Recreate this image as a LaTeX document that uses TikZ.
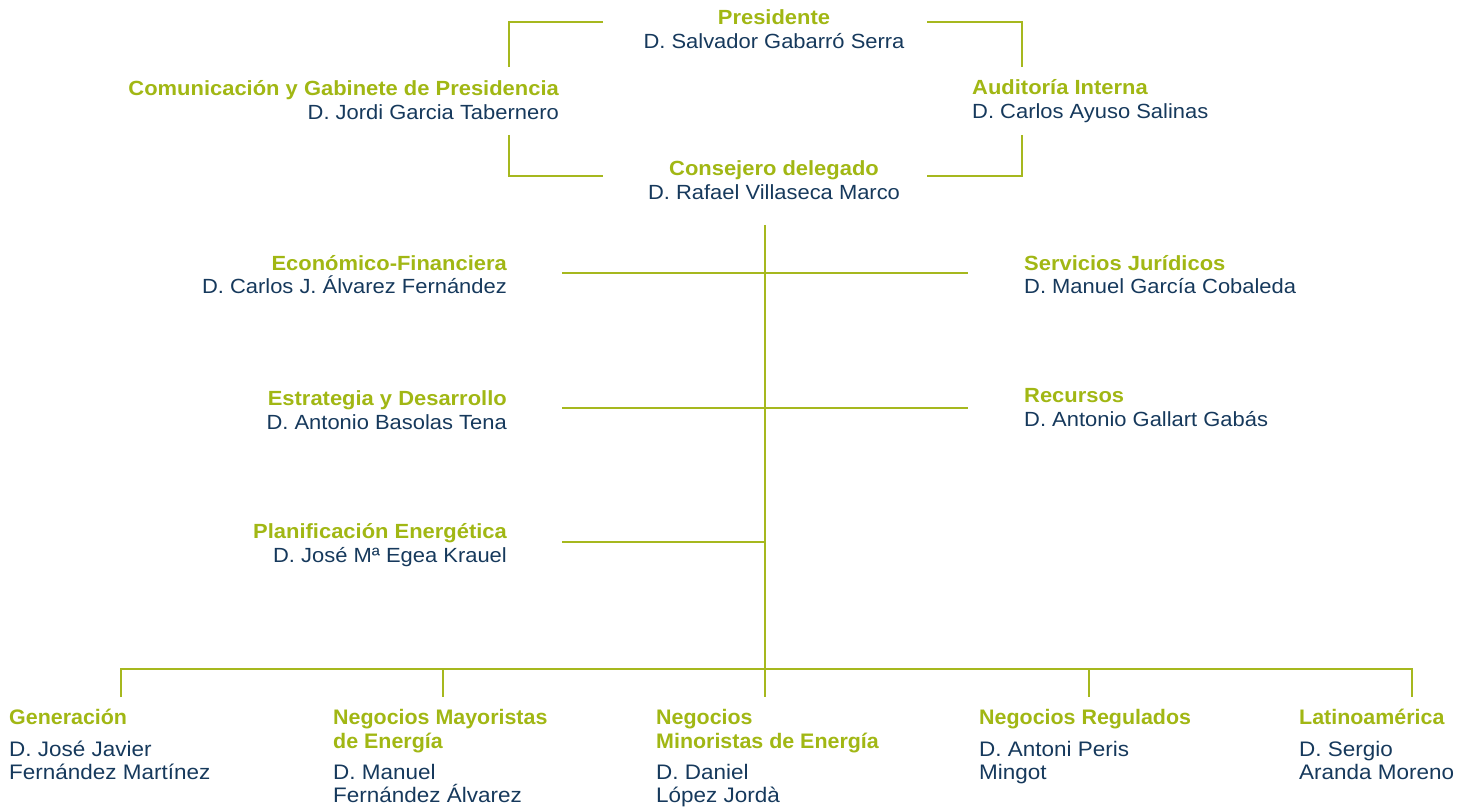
\documentclass[tikz,border=0pt]{standalone}
\usepackage{fontspec}
\setmainfont{Liberation Sans}[FakeStretch=1.07]
\newfontfamily\bottomtitlefont{Liberation Sans}[FakeStretch=1.02]
\definecolor{chartgreen}{RGB}{161,183,20}
\definecolor{chartline}{RGB}{166,184,30}
\definecolor{chartnavy}{RGB}{22,57,92}
\begin{document}
\begin{tikzpicture}[x=1pt,y=-1pt,
  ttl/.style={font=\fontsize{20.5}{24}\selectfont\bfseries, text=chartgreen, inner sep=0pt},
  nm/.style={font=\fontsize{20.5}{24}\selectfont, text=chartnavy, inner sep=0pt},
  bttl/.style={font=\bottomtitlefont\fontsize{21}{24}\selectfont\bfseries, text=chartgreen, inner sep=0pt, anchor=base west},
  bnm/.style={font=\fontsize{21}{24}\selectfont, text=chartnavy, inner sep=0pt, anchor=base west},
  link/.style={draw=chartline, line width=1.6pt}]
\useasboundingbox (0,0) rectangle (1471,810);

% ---- top block
\node[ttl, anchor=base] (pres) at (774,25) {Presidente};
\node[nm, anchor=base] (presN) at (774,49) {D. Salvador Gabarró Serra};
\node[ttl, anchor=base east] (com) at (559,96) {Comunicación y Gabinete de Presidencia};
\node[nm, anchor=base east] (comN) at (559,120) {D. Jordi Garcia Tabernero};
\node[ttl, anchor=base west] (aud) at (972,95) {Auditoría Interna};
\node[nm, anchor=base west] (audN) at (972,119) {D. Carlos Ayuso Salinas};
\node[ttl, anchor=base] (cons) at (774,176) {Consejero delegado};
\node[nm, anchor=base] (consN) at (774,200) {D. Rafael Villaseca Marco};

\coordinate (tlA) at (603,22);   \coordinate (tlB) at (509,67);
\coordinate (blA) at (509,135);  \coordinate (blB) at (603,176);
\coordinate (trA) at (927,22);   \coordinate (trB) at (1022,67);
\coordinate (brA) at (1022,135); \coordinate (brB) at (927,176);
\draw[link] (tlA) -| (tlB);
\draw[link] (blA) |- (blB);
\draw[link] (trA) -| (trB);
\draw[link] (brA) |- (brB);

% ---- middle block
\node[ttl, anchor=base east] (eco) at (507,270) {Económico-Financiera};
\node[nm, anchor=base east] (ecoN) at (507,293) {D. Carlos J. Álvarez Fernández};
\node[ttl, anchor=base west] (jur) at (1024,270) {Servicios Jurídicos};
\node[nm, anchor=base west] (jurN) at (1024,293) {D. Manuel García Cobaleda};
\node[ttl, anchor=base east] (est) at (507,405) {Estrategia y Desarrollo};
\node[nm, anchor=base east] (estN) at (507,429) {D. Antonio Basolas Tena};
\node[ttl, anchor=base west] (rec) at (1024,402) {Recursos};
\node[nm, anchor=base west] (recN) at (1024,426) {D. Antonio Gallart Gabás};
\node[ttl, anchor=base east] (pla) at (507,538) {Planificación Energética};
\node[nm, anchor=base east] (plaN) at (507,562) {D. José Mª Egea Krauel};

\coordinate (trunkTop) at (765,225);
\coordinate (trunkBot) at (765,697);
\draw[link] (trunkTop) -- (trunkBot);
\coordinate (h1L) at (562,272.7); \coordinate (h1R) at (968,272.7);
\coordinate (h2L) at (562,408);   \coordinate (h2R) at (968,408);
\coordinate (h3L) at (562,541.7); \coordinate (h3R) at (765,541.7);
\draw[link] (h1L) -- (h1R);
\draw[link] (h2L) -- (h2R);
\draw[link] (h3L) -- (h3R);

% ---- bottom bus
\coordinate (busR) at (1412,668.7);
\coordinate (d1) at (120.7,697);
\coordinate (d2a) at (443,668.7);  \coordinate (d2) at (443,697);
\coordinate (d4a) at (1089,668.7); \coordinate (d4) at (1089,697);
\coordinate (d5) at (1412,697);
\draw[link] (d1) |- (busR) -- (d5);
\draw[link] (d2a) -- (d2);
\draw[link] (d4a) -- (d4);

% ---- bottom units
\node[bttl] (gen) at (9,724) {Generación};
\node[bnm] (genN1) at (9,756) {D. José Javier};
\node[bnm] (genN2) at (9,779) {Fernández Martínez};

\node[bttl] (may1) at (333,724) {Negocios Mayoristas};
\node[bttl] (may2) at (333,748) {de Energía};
\node[bnm] (mayN1) at (333,779) {D. Manuel};
\node[bnm] (mayN2) at (333,802) {Fernández Álvarez};

\node[bttl] (min1) at (656,724) {Negocios};
\node[bttl] (min2) at (656,748) {Minoristas de Energía};
\node[bnm] (minN1) at (656,779) {D. Daniel};
\node[bnm] (minN2) at (656,802) {López Jordà};

\node[bttl] (reg) at (979,724) {Negocios Regulados};
\node[bnm] (regN1) at (979,756) {D. Antoni Peris};
\node[bnm] (regN2) at (979,779) {Mingot};

\node[bttl] (lat) at (1299,724) {Latinoamérica};
\node[bnm] (latN1) at (1299,756) {D. Sergio};
\node[bnm] (latN2) at (1299,779) {Aranda Moreno};
\end{tikzpicture}
\end{document}
